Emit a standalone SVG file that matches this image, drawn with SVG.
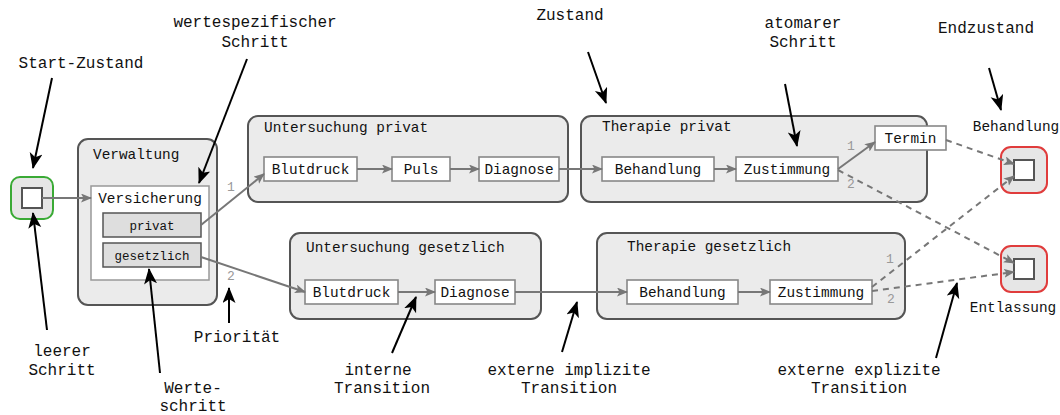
<svg xmlns="http://www.w3.org/2000/svg" width="1060" height="415" viewBox="0 0 1060 415">
  <defs>
    <!-- grey arrowhead for process transitions -->
    <marker id="arrGrey" markerUnits="userSpaceOnUse" markerWidth="12" markerHeight="10" refX="10" refY="4.5" orient="auto">
      <path d="M0,0 L11,4.5 L0,9 L2.5,4.5 z" fill="#777"/>
    </marker>
    <!-- black arrowhead for explanatory callouts -->
    <marker id="arrBlack" markerUnits="userSpaceOnUse" markerWidth="18" markerHeight="14" refX="15" refY="6.5" orient="auto">
      <path d="M0,0 L16,6.5 L0,13 L4,6.5 z" fill="#000"/>
    </marker>
    <style>
      text { font-family: "Liberation Mono", "Courier New", monospace; fill: #111; }
      .note { font-size: 16px; text-anchor: middle; }
      .title { font-size: 14.4px; }
      .lbl { font-size: 14.4px; text-anchor: middle; }
      .small { font-size: 12.5px; text-anchor: middle; }
      .prio { font-size: 13px; fill: #999; text-anchor: middle; }
      .container { fill: #ebebeb; stroke: #555; stroke-width: 2; }
      .step { fill: #fff; stroke: #888; stroke-width: 1.6; }
      .value { fill: #dedede; stroke: #555; stroke-width: 1.5; }
      .startState { fill: #e6e6e6; stroke: #3aaa35; stroke-width: 2; }
      .endState { fill: #e6e6e6; stroke: #e03c3c; stroke-width: 2; }
      .inner { fill: #fff; stroke: #555; stroke-width: 2; }
      .conn { fill: none; stroke: #777; stroke-width: 2; marker-end: url(#arrGrey); }
      .dash { stroke-dasharray: 6 5; }
      .callout { fill: none; stroke: #000; stroke-width: 2; marker-end: url(#arrBlack); }
    </style>
  </defs>

  <!-- start state -->
  <g id="start">
    <rect class="startState" x="11" y="177" width="42" height="42" rx="9"/>
    <rect class="inner" x="22" y="188" width="20" height="20"/>
  </g>

  <!-- administration step with value-specific branch -->
  <g id="verwaltung">
    <rect class="container" x="78" y="139" width="139" height="166" rx="10"/>
    <text class="title" x="93" y="159">Verwaltung</text>
  </g>
  <g id="versicherung">
    <rect x="91" y="186" width="118" height="94" fill="#fff" stroke="#999" stroke-width="1.5"/>
    <text class="lbl" x="150" y="203">Versicherung</text>
  </g>
  <g id="privat">
    <rect class="value" x="103" y="213" width="98" height="24"/>
    <text class="small" x="152" y="230">privat</text>
  </g>
  <g id="gesetzlich">
    <rect class="value" x="103" y="243" width="98" height="24"/>
    <text class="small" x="152" y="260">gesetzlich</text>
  </g>

  <!-- examination (private) -->
  <g id="untersuchung-privat">
    <rect class="container" x="248" y="116" width="320" height="86" rx="10"/>
    <text class="title" x="264" y="132">Untersuchung privat</text>
  </g>
  <g id="up-blutdruck">
    <rect class="step" x="264" y="157" width="93" height="24"/>
    <text class="lbl" x="310.5" y="174">Blutdruck</text>
  </g>
  <g id="up-puls">
    <rect class="step" x="392" y="157" width="58" height="24"/>
    <text class="lbl" x="421" y="174">Puls</text>
  </g>
  <g id="up-diagnose">
    <rect class="step" x="479" y="157" width="80" height="24"/>
    <text class="lbl" x="519" y="174">Diagnose</text>
  </g>

  <!-- examination (statutory) -->
  <g id="untersuchung-gesetzlich">
    <rect class="container" x="290" y="233" width="251" height="86" rx="10"/>
    <text class="title" x="306" y="252">Untersuchung gesetzlich</text>
  </g>
  <g id="ug-blutdruck">
    <rect class="step" x="305" y="280" width="93" height="24"/>
    <text class="lbl" x="351.5" y="297">Blutdruck</text>
  </g>
  <g id="ug-diagnose">
    <rect class="step" x="435" y="280" width="80" height="24"/>
    <text class="lbl" x="475" y="297">Diagnose</text>
  </g>

  <!-- therapy (private) -->
  <g id="therapie-privat">
    <rect class="container" x="581" y="116" width="346" height="86" rx="10"/>
    <text class="title" x="602" y="131">Therapie privat</text>
  </g>
  <g id="tp-behandlung">
    <rect class="step" x="602" y="157" width="112" height="24"/>
    <text class="lbl" x="658" y="174">Behandlung</text>
  </g>
  <g id="tp-zustimmung">
    <rect class="step" x="736" y="157" width="102" height="24"/>
    <text class="lbl" x="787" y="174">Zustimmung</text>
  </g>
  <g id="tp-termin">
    <rect class="step" x="875" y="126" width="71" height="24"/>
    <text class="lbl" x="910.5" y="143">Termin</text>
  </g>

  <!-- therapy (statutory) -->
  <g id="therapie-gesetzlich">
    <rect class="container" x="597" y="233" width="308" height="86" rx="10"/>
    <text class="title" x="627" y="251">Therapie gesetzlich</text>
  </g>
  <g id="tg-behandlung">
    <rect class="step" x="627" y="280" width="111" height="24"/>
    <text class="lbl" x="682.5" y="297">Behandlung</text>
  </g>
  <g id="tg-zustimmung">
    <rect class="step" x="770" y="280" width="102" height="24"/>
    <text class="lbl" x="821" y="297">Zustimmung</text>
  </g>

  <!-- end states -->
  <g id="end-behandlung">
    <rect class="endState" x="1001" y="147" width="46" height="46" rx="10"/>
    <rect class="inner" x="1014" y="160" width="20" height="20"/>
    <text class="lbl" x="1016" y="131">Behandlung</text>
  </g>
  <g id="end-entlassung">
    <rect class="endState" x="1001" y="246" width="46" height="46" rx="10"/>
    <rect class="inner" x="1014" y="259" width="20" height="20"/>
    <text class="lbl" x="1013" y="312">Entlassung</text>
  </g>

  <!-- transitions -->
  <g id="connectors">
    <line class="conn" x1="42" y1="198" x2="91" y2="198"/>
    <line class="conn" x1="201" y1="225" x2="264" y2="174"/>
    <line class="conn" x1="201" y1="257" x2="305" y2="292"/>
    <line class="conn" x1="357" y1="169" x2="392" y2="169"/>
    <line class="conn" x1="450" y1="169" x2="479" y2="169"/>
    <line class="conn" x1="559" y1="169" x2="602" y2="169"/>
    <line class="conn" x1="714" y1="169" x2="736" y2="169"/>
    <line class="conn" x1="838" y1="169" x2="875" y2="142"/>
    <line class="conn" x1="398" y1="292" x2="435" y2="292"/>
    <line class="conn" x1="515" y1="292" x2="627" y2="292"/>
    <line class="conn" x1="738" y1="292" x2="770" y2="292"/>
    <line class="conn dash" x1="946" y1="140" x2="1014" y2="164"/>
    <line class="conn dash" x1="838" y1="170" x2="1014" y2="263"/>
    <line class="conn dash" x1="872" y1="287" x2="1014" y2="176"/>
    <line class="conn dash" x1="872" y1="291" x2="1014" y2="272"/>
    <!-- priorities -->
    <text class="prio" x="231" y="191">1</text>
    <text class="prio" x="231" y="280">2</text>
    <text class="prio" x="851" y="150">1</text>
    <text class="prio" x="851" y="188">2</text>
    <text class="prio" x="890" y="263">1</text>
    <text class="prio" x="891" y="303">2</text>
  </g>

  <!-- explanatory callouts -->
  <g id="callouts">
    <line class="callout" x1="52" y1="78" x2="33" y2="168"/>
    <line class="callout" x1="247" y1="59" x2="199" y2="183"/>
    <line class="callout" x1="588" y1="52" x2="606" y2="103"/>
    <line class="callout" x1="785" y1="84" x2="797" y2="146"/>
    <line class="callout" x1="989" y1="68" x2="1001" y2="110"/>
    <line class="callout" x1="47" y1="330" x2="33" y2="213"/>
    <line class="callout" x1="160" y1="373" x2="149" y2="269"/>
    <line class="callout" x1="229" y1="323" x2="229" y2="288"/>
    <line class="callout" x1="392" y1="353" x2="416" y2="297"/>
    <line class="callout" x1="562" y1="352" x2="577" y2="302"/>
    <line class="callout" x1="936" y1="358" x2="957" y2="283"/>
    <text class="note" x="81" y="68">Start-Zustand</text>
    <text class="note" x="255" y="27">wertespezifischer</text>
    <text class="note" x="255" y="47">Schritt</text>
    <text class="note" x="570" y="20">Zustand</text>
    <text class="note" x="803" y="28">atomarer</text>
    <text class="note" x="803" y="47">Schritt</text>
    <text class="note" x="986" y="33">Endzustand</text>
    <text class="note" x="62" y="356">leerer</text>
    <text class="note" x="62" y="375">Schritt</text>
    <text class="note" x="193" y="393">Werte-</text>
    <text class="note" x="193" y="411">schritt</text>
    <text class="note" x="237" y="342">Priorität</text>
    <text class="note" x="378" y="375">interne</text>
    <text class="note" x="382" y="393">Transition</text>
    <text class="note" x="569" y="375">externe implizite</text>
    <text class="note" x="569" y="393">Transition</text>
    <text class="note" x="859" y="375">externe explizite</text>
    <text class="note" x="859" y="393">Transition</text>
  </g>
</svg>
